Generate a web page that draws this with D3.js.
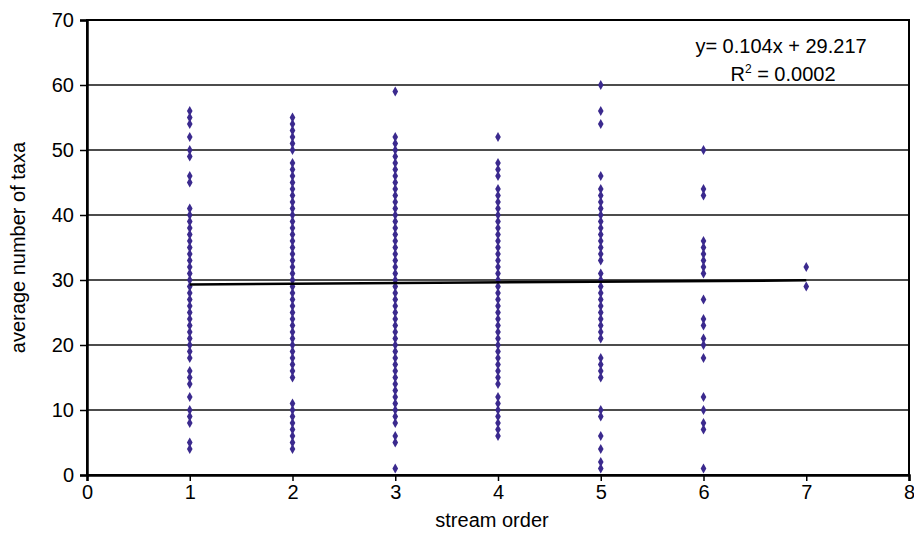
<!DOCTYPE html>
<html>
<head>
<meta charset="utf-8">
<script src="https://cdn.jsdelivr.net/npm/d3@7"></script>
<style>
body { margin: 0; background: #fff; }
text { font-family: "Liberation Sans", Arial, Helvetica, sans-serif; fill: #000; }
</style>
</head>
<body>
<div id="chart"></div>
<script>
//values, one list per stream order
var order1 = [56,55,54,52,50,49,46,45,41,40,39,38,37,36,35,34,33,32,31,30,29,28,27,26,25,24,23,22,21,20,19,18,16,15,14,12,10,9,8,5,4];
var order2 = [55,54,53,52,51,50,48,47,46,45,44,43,42,41,40,39,38,37,36,35,34,33,32,31,30,29,28,27,26,25,24,23,22,21,20,19,18,17,16,15,11,10,9,8,7,6,5,4];
var order3 = [59,52,51,50,49,48,47,46,45,44,43,42,41,40,39,38,37,36,35,34,33,32,31,30,29,28,27,26,25,24,23,22,21,20,19,18,17,16,15,14,13,12,11,10,9,8,6,5,1];
var order4 = [52,48,47,46,44,43,42,41,40,39,38,37,36,35,34,33,32,31,30,29,28,27,26,25,24,23,22,21,20,19,18,17,16,15,14,12,11,10,9,8,7,6];
var order5 = [60,56,54,46,44,43,42,41,40,39,38,37,36,35,34,33,31,30,29,28,27,26,25,24,23,22,21,18,17,16,15,10,9,6,4,2,1];
var order6 = [50,44,43,36,35,34,33,32,31,27,24,23,21,20,18,12,10,8,7,1];
var order7 = [32,29];

var orders = [order1, order2, order3, order4, order5, order6, order7];

//trend line
var slope = 0.104;
var intercept = 29.217;
var trendRange = [1, 7];

var xTicks = [0,1,2,3,4,5,6,7,8];
var yTicks = [0,10,20,30,40,50,60,70];

var width = 914, height = 534;
var margin = {top: 20, right: 5, bottom: 59, left: 87};

var svg = d3.select("#chart").append("svg")
    .attr("width", width)
    .attr("height", height);

var x = d3.scaleLinear().domain([0, 8]).range([margin.left, width - margin.right]);
var y = d3.scaleLinear().domain([0, 70]).range([height - margin.bottom, margin.top]);

//flatten into points
var points = [];
orders.forEach(function(list, i) {
    list.forEach(function(v) {
        points.push({order: i + 1, taxa: v});
    });
});

//gridlines
svg.append("g")
    .selectAll("line.grid")
    .data(yTicks.filter(function(d) { return d > 0 && d < 70; }))
    .enter().append("line")
    .attr("class", "grid")
    .attr("x1", x(0)).attr("x2", x(8))
    .attr("y1", function(d) { return y(d); })
    .attr("y2", function(d) { return y(d); })
    .attr("stroke", "#111")
    .attr("stroke-width", 1.3);

//frame
svg.append("rect")
    .attr("x", x(0)).attr("y", y(70))
    .attr("width", x(8) - x(0))
    .attr("height", y(0) - y(70))
    .attr("fill", "none")
    .attr("stroke", "#000")
    .attr("stroke-width", 2);

//axes
var xAxis = svg.append("g")
    .attr("transform", "translate(0," + y(0) + ")")
    .call(d3.axisBottom(x).tickValues(xTicks).tickFormat(d3.format("d")).tickSize(6).tickPadding(4));
var yAxis = svg.append("g")
    .attr("transform", "translate(" + x(0) + ",0)")
    .call(d3.axisLeft(y).tickValues(yTicks).tickFormat(d3.format("d")).tickSize(7).tickPadding(6));

[xAxis, yAxis].forEach(function(a) {
    a.select(".domain").attr("stroke", "#000").attr("stroke-width", 2.5);
    a.selectAll(".tick line").attr("stroke", "#000").attr("stroke-width", 1.5);
    a.selectAll(".tick text")
        .style("font-family", "'Liberation Sans', Arial, sans-serif")
        .style("font-size", "20px")
        .attr("fill", "#000");
});

//points
svg.append("g")
    .selectAll("path.pt")
    .data(points)
    .enter().append("path")
    .attr("class", "pt")
    .attr("d", d3.symbol().type(d3.symbolDiamond).size(28))
    .attr("transform", function(d) { return "translate(" + x(d.order) + "," + y(d.taxa) + ")"; })
    .attr("fill", "#3b2a8e");

//trend line
svg.append("line")
    .attr("x1", x(trendRange[0]))
    .attr("y1", y(slope * trendRange[0] + intercept))
    .attr("x2", x(trendRange[1]))
    .attr("y2", y(slope * trendRange[1] + intercept))
    .attr("stroke", "#000")
    .attr("stroke-width", 2.5);

//equation
var eq = svg.append("text")
    .attr("x", 781)
    .attr("y", 53)
    .attr("text-anchor", "middle")
    .style("font-size", "20px")
    .text("y= 0.104x + 29.217");

var r2 = svg.append("text")
    .attr("x", 783)
    .attr("y", 81)
    .attr("text-anchor", "middle")
    .style("font-size", "20px");
r2.append("tspan").text("R");
r2.append("tspan").attr("dy", -8).style("font-size", "12px").text("2");
r2.append("tspan").attr("dy", 8).text(" = 0.0002");

//axis titles
svg.append("text")
    .attr("x", 492)
    .attr("y", 527)
    .attr("text-anchor", "middle")
    .style("font-size", "20px")
    .text("stream order");

svg.append("text")
    .attr("transform", "translate(25," + ((y(0) + y(70)) / 2) + ") rotate(-90)")
    .attr("text-anchor", "middle")
    .style("font-size", "20px")
    .text("average number of taxa");
</script>
</body>
</html>
